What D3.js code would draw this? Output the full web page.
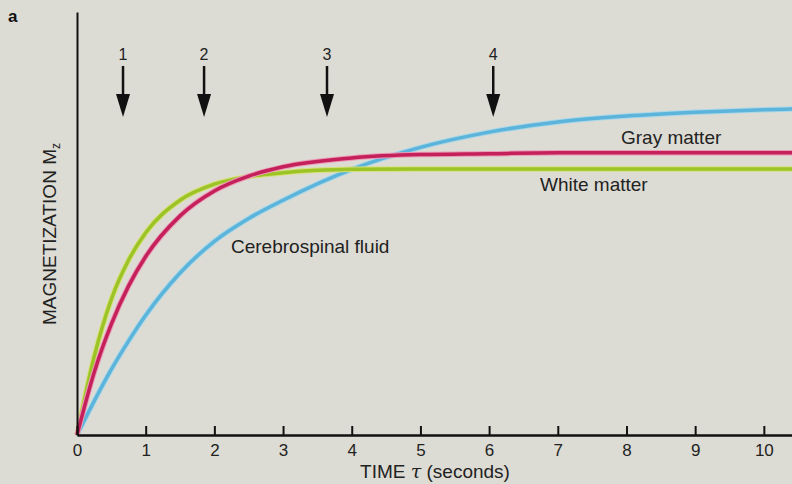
<!DOCTYPE html>
<html lang="en">
<head>
<meta charset="utf-8">
<title>Magnetization recovery</title>
<script src="https://d3js.org/d3.v7.min.js"></script>
<style>
  body { margin: 0; background: #dddcd4; }
  svg { display: block; font-family: "Liberation Sans", Arial, sans-serif; }
</style>
</head>
<body>
<div id="chart"></div>
<script>
// time (seconds) samples
var times = [0, 0.25, 0.5, 0.75, 1, 1.5, 2, 2.5, 3, 4, 5, 6, 7, 8, 9, 10, 10.5];
// magnetization (fraction of axis height)
var whiteMatter = [0, 0.185, 0.321, 0.413, 0.478, 0.555, 0.593, 0.611, 0.620, 0.628, 0.629, 0.629, 0.629, 0.629, 0.629, 0.629, 0.629];
var grayMatter  = [0, 0.148, 0.262, 0.352, 0.422, 0.518, 0.577, 0.612, 0.634, 0.655, 0.663, 0.665, 0.667, 0.667, 0.667, 0.667, 0.667];
var csf         = [0, 0.080, 0.155, 0.222, 0.283, 0.383, 0.458, 0.512, 0.555, 0.628, 0.680, 0.716, 0.740, 0.754, 0.763, 0.769, 0.771];
var xTicks = [0, 1, 2, 3, 4, 5, 6, 7, 8, 9, 10];
var arrowTimes = [0.67, 1.85, 3.64, 6.06];
var arrowLabels = ["1", "2", "3", "4"];

var w = 792, h = 484;

var x = d3.scaleLinear().domain([0, 10.41]).range([77, 792]);
var y = d3.scaleLinear().domain([0, 1]).range([435, 12]);

var svg = d3.select("#chart").append("svg")
  .attr("width", w).attr("height", h);

svg.append("rect").attr("width", w).attr("height", h).attr("fill", "#dddcd4");

// panel letter
svg.append("text").attr("x", 8).attr("y", 22)
  .attr("font-size", 17).attr("font-weight", "bold").attr("fill", "#111").text("a");

// curves
var line = d3.line()
  .x(function(d) { return x(d[0]); })
  .y(function(d) { return y(d[1]); })
  .curve(d3.curveMonotoneX);

var series = [
  { vals: csf,         color: "#5cb4da", halo: "#a9d8ea" },
  { vals: whiteMatter, color: "#9cc427", halo: "#d6e07a" },
  { vals: grayMatter,  color: "#c4205a", halo: "#ec9ab8" }
];

series.forEach(function(s) {
  var pts = times.map(function(t, i) { return [t, s.vals[i]]; });
  svg.append("path").datum(pts).attr("d", line)
    .attr("fill", "none").attr("stroke", s.halo).attr("stroke-width", 5.5);
  svg.append("path").datum(pts).attr("d", line)
    .attr("fill", "none").attr("stroke", s.color).attr("stroke-width", 3.5);
});

// axes
var xAxis = d3.axisBottom(x).tickValues(xTicks)
  .tickSizeInner(-9).tickSizeOuter(0).tickPadding(9);
var gx = svg.append("g").attr("transform", "translate(0,435)").call(xAxis);
gx.select(".domain").attr("stroke", "#111").attr("stroke-width", 2.5);
gx.selectAll(".tick line").attr("stroke", "#111").attr("stroke-width", 2);
gx.selectAll(".tick text").attr("font-size", 17).attr("fill", "#222")
  .attr("font-family", "Liberation Sans, Arial, sans-serif");

var yAxis = d3.axisLeft(y).tickValues([]).tickSizeOuter(0);
var gy = svg.append("g").attr("transform", "translate(77,0)").call(yAxis);
gy.select(".domain").attr("stroke", "#111").attr("stroke-width", 2);

// axis titles
var xt = svg.append("text").attr("x", 435).attr("y", 478)
  .attr("text-anchor", "middle").attr("font-size", 19).attr("fill", "#222");
xt.append("tspan").text("TIME ");
xt.append("tspan").attr("font-style", "italic").attr("font-family", "DejaVu Serif, serif").text("τ");
xt.append("tspan").text(" (seconds)");

var yt = svg.append("text").attr("transform", "translate(56,234) rotate(-90)")
  .attr("text-anchor", "middle").attr("font-size", 19).attr("fill", "#222");
yt.append("tspan").text("MAGNETIZATION M");
yt.append("tspan").attr("font-size", 12).attr("dy", 4).text("z");

// arrows
var arrows = svg.selectAll(".arrow").data(arrowTimes).enter().append("g")
  .attr("class", "arrow")
  .attr("transform", function(d) { return "translate(" + x(d) + ",0)"; });
arrows.append("text").attr("y", 60).attr("text-anchor", "middle")
  .attr("font-size", 16).attr("fill", "#222")
  .text(function(d, i) { return arrowLabels[i]; });
arrows.append("line").attr("x1", 0).attr("x2", 0).attr("y1", 66).attr("y2", 100)
  .attr("stroke", "#111").attr("stroke-width", 2.5);
arrows.append("path").attr("d", "M-7,94L7,94L0,117Z").attr("fill", "#111");

// curve labels
svg.append("text").attr("x", 621).attr("y", 144).attr("font-size", 19)
  .attr("fill", "#222").text("Gray matter");
svg.append("text").attr("x", 540).attr("y", 191).attr("font-size", 19)
  .attr("fill", "#222").text("White matter");
svg.append("text").attr("x", 231).attr("y", 253).attr("font-size", 19)
  .attr("fill", "#222").text("Cerebrospinal fluid");
</script>
</body>
</html>
